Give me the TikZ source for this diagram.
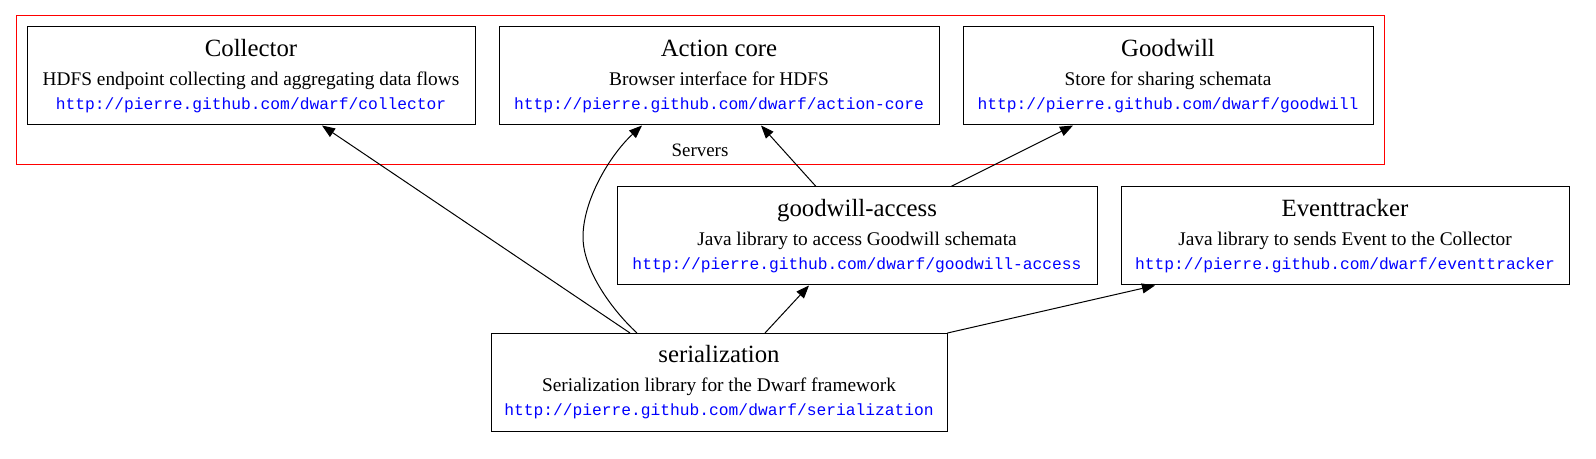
\documentclass[tikz,border=0pt]{standalone}
\usepackage{fontspec}
\setmainfont{Liberation Serif}
\setmonofont{Liberation Mono}
\usetikzlibrary{arrows.meta,calc}
\definecolor{urlblue}{RGB}{0,0,255}
\definecolor{clusterred}{RGB}{255,0,0}
\tikzset{
  compbox/.style={draw=black, line width=0.75pt, rectangle, inner sep=0pt, minimum height=98*0.75pt},
  clusterbox/.style={draw=clusterred, line width=0.75pt, rectangle, inner sep=0pt},
  titletext/.style={inner sep=0pt, font=\fontsize{18.6pt}{20pt}\selectfont},
  desctext/.style={inner sep=0pt, font=\fontsize{14.5pt}{16pt}\selectfont},
  urltext/.style={inner sep=0pt, text=urlblue, font=\ttfamily\fontsize{12.2pt}{14pt}\selectfont},
  clusterlabel/.style={inner sep=0pt, font=\fontsize{14.2pt}{16pt}\selectfont},
  arr/.style={draw=black, line width=0.75pt, -{Triangle[length=9.75pt,width=7.5pt]}},
}
\newcommand\mkcomp[7]{%
  \node[compbox, minimum width=#4*0.75pt] (#1) at (#2,#3) {};
  \node[titletext, anchor=base] (#1-t) at ($(#1.north)+(0,30)$) {#5};
  \node[desctext, anchor=base] (#1-d) at ($(#1.north)+(0,59)$) {#6};
  \node[urltext, anchor=base] (#1-u) at ($(#1.north)+(0,83)$) {#7};
}
\begin{document}
\begin{tikzpicture}[x=0.75pt,y=-0.75pt]
\useasboundingbox (0,0) rectangle (1596,459);
% cluster
\node[clusterbox, minimum width=1368*0.75pt, minimum height=149*0.75pt] (servers) at (700,90.5) {};
\node[clusterlabel, anchor=base] (servers-l) at (700,157) {Servers};
% components
\mkcomp{col}{251}{76}{448}{Collector}{HDFS endpoint collecting and aggregating data flows}{http://pierre.github.com/dwarf/collector}
\mkcomp{act}{719}{76}{440}{Action core}{Browser interface for HDFS}{http://pierre.github.com/dwarf/action-core}
\mkcomp{gw}{1168}{76}{410}{Goodwill}{Store for sharing schemata}{http://pierre.github.com/dwarf/goodwill}
\mkcomp{ga}{857}{236}{480}{goodwill-access}{Java library to access Goodwill schemata}{http://pierre.github.com/dwarf/goodwill-access}
\mkcomp{ev}{1345}{236}{448}{Eventtracker}{Java library to sends Event to the Collector}{http://pierre.github.com/dwarf/eventtracker}
\mkcomp{ser}{719}{382.5}{456}{serialization}{Serialization library for the Dwarf framework}{http://pierre.github.com/dwarf/serialization}
% connectors
\draw[arr] ($(ser.north)+(-89,0)$) -- ($(col.south)+(71,0)$);
\draw[arr] ($(ser.north)+(-82,0)$) .. controls (612,310) and (583,270) .. (583,237)
  .. controls (583,200) and (610,155) .. ($(act.south)+(-77,0)$);
\draw[arr] ($(ga.north)+(-41,0)$) -- ($(act.south)+(42,0)$);
\draw[arr] ($(ga.north)+(94,0)$) -- ($(gw.south)+(-95,0)$);
\draw[arr] ($(ser.north)+(46,0)$) -- ($(ga.south)+(-48,0)$);
\draw[arr] (ser.north east) -- ($(ev.south)+(-190,0)$);
\end{tikzpicture}
\end{document}
